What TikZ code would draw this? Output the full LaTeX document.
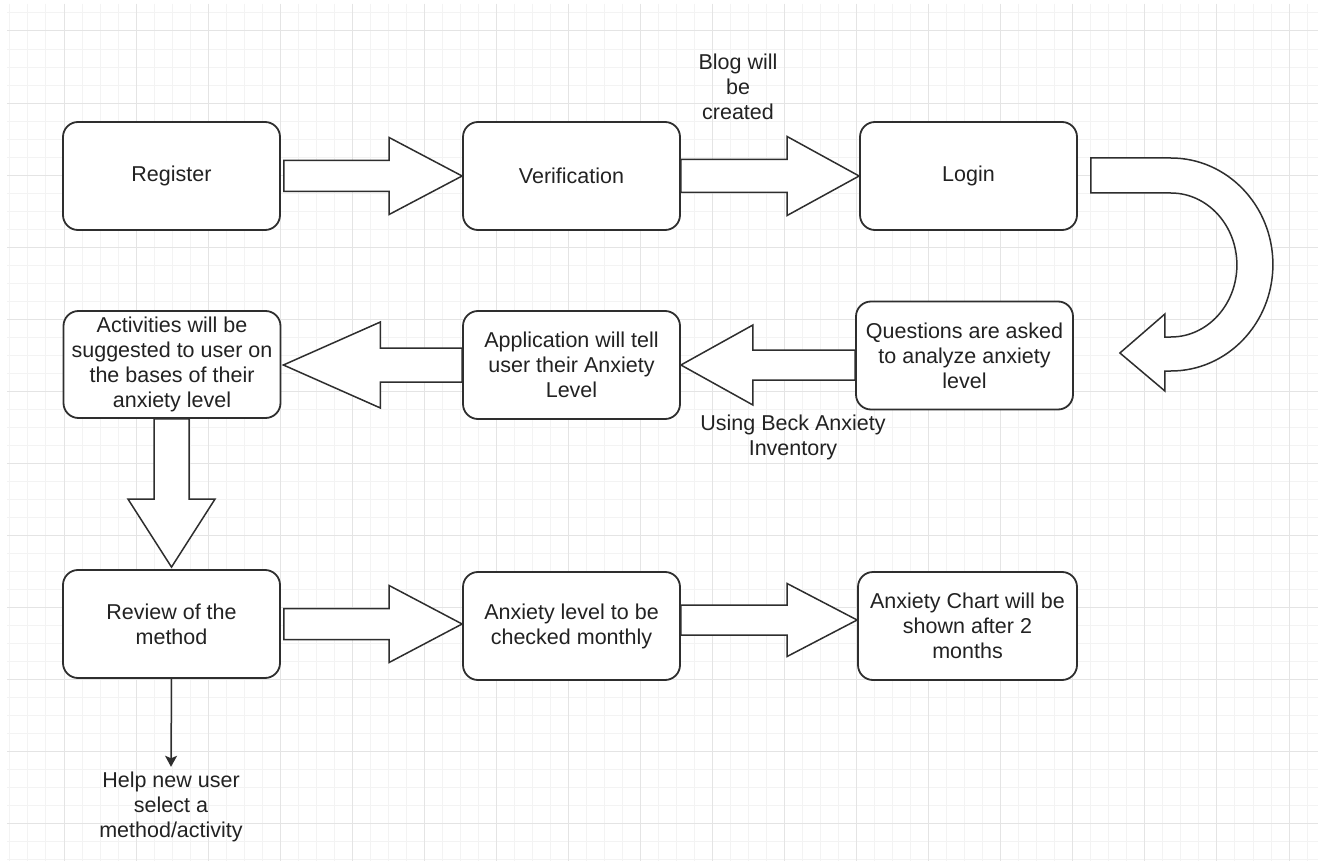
\documentclass[tikz,border=0pt]{standalone}
\usepackage{fontspec}
\setmainfont{Liberation Sans}
\usetikzlibrary{calc,arrows.meta}

\definecolor{ink}{HTML}{222222}
\definecolor{edge}{HTML}{2E2E2E}
\definecolor{gridmajor}{HTML}{E4E4E4}
\definecolor{gridminor}{HTML}{F3F3F3}

\newcommand\lblfont{\fontsize{21.5}{25}\selectfont}

% Horizontal block arrow: tail, tip, shaft half width, head half width, head length
\newcommand\fatharrow[5]{%
  \draw[blockarrow] let \p1=#1, \p2=#2, \n1={sign(\x2-\x1)} in
    (\x1,{\y2+#3pt}) -- ({\x2-(\n1)*#5pt},{\y2+#3pt}) -- ({\x2-(\n1)*#5pt},{\y2+#4pt})
    -- (\x2,\y2)
    -- ({\x2-(\n1)*#5pt},{\y2-#4pt}) -- ({\x2-(\n1)*#5pt},{\y2-#3pt}) -- (\x1,{\y2-#3pt}) -- cycle;}

% Vertical block arrow: same arguments
\newcommand\fatvarrow[5]{%
  \draw[blockarrow] let \p1=#1, \p2=#2, \n1={sign(\y2-\y1)} in
    ({\x2+#3pt},\y1) -- ({\x2+#3pt},{\y2-(\n1)*#5pt}) -- ({\x2+#4pt},{\y2-(\n1)*#5pt})
    -- (\x2,\y2)
    -- ({\x2-#4pt},{\y2-(\n1)*#5pt}) -- ({\x2-#3pt},{\y2-(\n1)*#5pt}) -- ({\x2-#3pt},\y1) -- cycle;}

\tikzset{
  stepbox/.style={draw=edge, line width=1.8pt, fill=white, rounded corners=15pt,
    minimum width=217pt, minimum height=108pt, align=center, text=ink,
    font=\lblfont, inner sep=0pt},
  blockarrow/.style={draw=edge, line width=1.5pt, fill=white, line join=miter},
  note/.style={align=center, text=ink, font=\lblfont, inner sep=0pt},
  thinarrow/.style={draw=edge, line width=1.5pt,
    -{Stealth[length=11pt,width=12pt,inset=2.5pt]}}
}

\begin{document}
\begin{tikzpicture}[x=1pt,y=-1pt]
\useasboundingbox (0,0) rectangle (1318,861);
\fill[white] (0,0) rectangle (1318,861);

% background grid
\foreach \i in {-3,...,69}
  \draw[gridminor, line width=1pt] ({64+\i*18.015},4) -- ({64+\i*18.015},861);
\foreach \j in {-1,...,46}
  \draw[gridminor, line width=1pt] (7,{31+\j*18.015}) -- (1318,{31+\j*18.015});
\foreach \i in {0,...,17}
  \draw[gridmajor, line width=1pt] ({64+\i*72.06},4) -- ({64+\i*72.06},861);
\foreach \j in {0,...,11}
  \draw[gridmajor, line width=1pt] (7,{31+\j*72.06}) -- (1318,{31+\j*72.06});

% process steps
\node[stepbox] (reg)    at (171.5,176) {Register};
\node[stepbox] (ver)    at (571.5,176) {Verification};
\node[stepbox] (login)  at (968.5,176) {Login};
\node[stepbox] (quest)  at (964.5,355.5) {Questions are asked\\to analyze anxiety\\level};
\node[stepbox] (app)    at (571.5,365) {Application will tell\\user their Anxiety\\Level};
\node[stepbox, minimum height=107pt] (act) at (172,364.5)
  {Activities will be\\suggested to user on\\the bases of their\\anxiety level};
\node[stepbox] (review) at (171.5,624) {Review of the\\method};
\node[stepbox] (level)  at (571.5,626) {Anxiety level to be\\checked monthly};
\node[stepbox, minimum width=219pt] (chart) at (967.5,626)
  {Anxiety Chart will be\\shown after 2\\months};

% annotations
\node[note] (blog) at (738,87)  {Blog will\\be\\created};
\node[note] (beck) at (793,437) {Using Beck Anxiety\\Inventory};
\node[note] (help) at (171,807) {Help new user\\select a\\method/activity};

% block arrows between steps
\fatharrow{($(reg.east)+(3,0)$)}{(ver.west)}{15.5}{38.5}{73}
\fatharrow{(ver.east)}{(login.west)}{16.5}{39.5}{72}
\fatharrow{(quest.west |- app.east)}{(app.east)}{15}{40}{72}
\fatharrow{(app.west)}{($(act.east |- app.west)+(2,0)$)}{17}{43}{97}
\fatvarrow{(act.south)}{($(review.north)+(0,-2)$)}{17.5}{43.5}{68}
\fatharrow{($(review.east)+(3,0)$)}{(level.west |- review.east)}{15.5}{38.5}{73}
\coordinate (lvout) at ($(level.east)+(0,-6)$);
\fatharrow{(lvout)}{(chart.west |- lvout)}{15}{36.5}{70}

% U-turn arrow from Login down to the questions
\coordinate (uturn) at ($(login.east)+(13,0)$);
\draw[blockarrow] ($(uturn)+(0,-18)$) -- ++(80,0)
  arc[start angle=-90, end angle=90, x radius=102, y radius=106.5]
  -- ++(-6,0) -- ++(0,20) -- ++(-45,-38) -- ++(45,-39) -- ++(0,23) -- ++(6,0)
  arc[start angle=90, end angle=-90, x radius=66, y radius=72]
  -- ++(-80,0) -- cycle;

% thin arrow to the closing note
\draw[thinarrow] (review.south) -- ($(help.north)+(0,-5)$);
\end{tikzpicture}
\end{document}
